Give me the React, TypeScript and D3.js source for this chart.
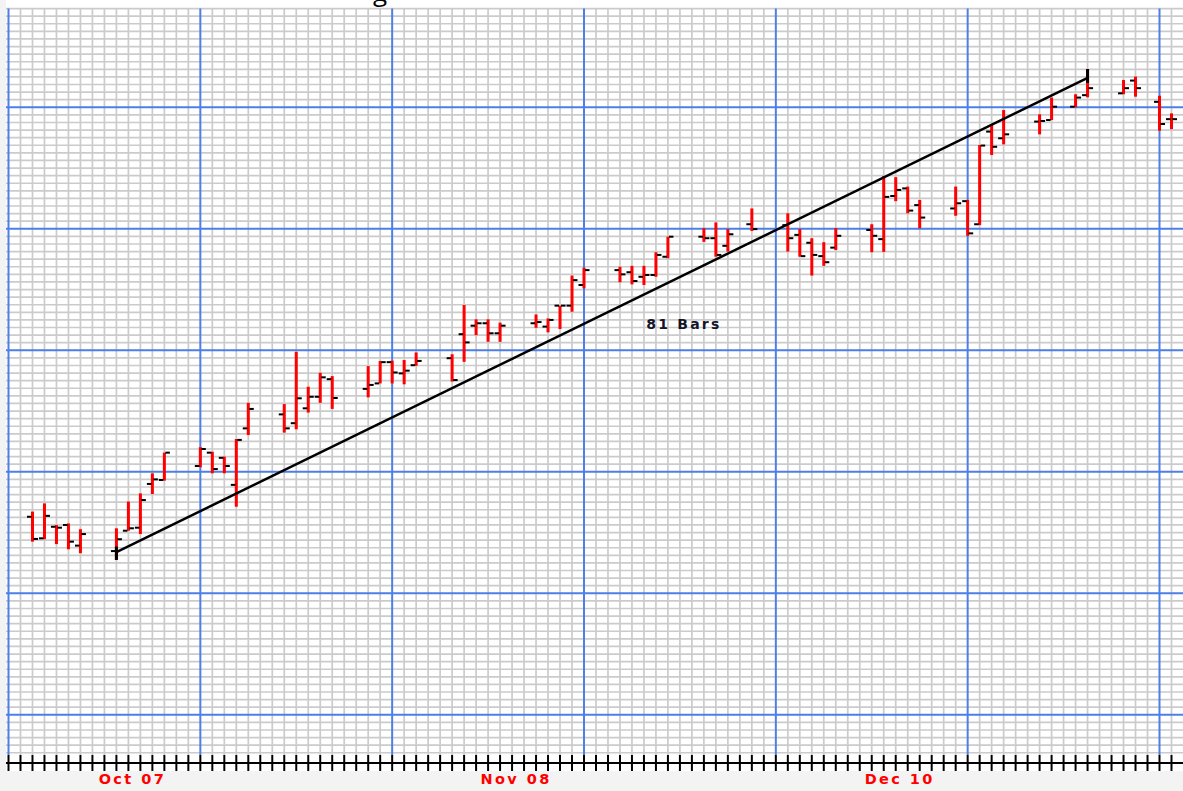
import * as d3 from "d3";

// day index (calendar days from the left edge of the grid)
const days = [
  2, 3, 4, 5, 6, 9, 10, 11, 12, 13, 16, 17, 18, 19, 20, 23, 24, 25, 26, 27,
  30, 31, 32, 33, 34, 37, 38, 39, 40, 41, 44, 45, 46, 47, 48, 51, 52, 53, 54,
  55, 58, 59, 60, 62, 65, 66, 67, 68, 69, 72, 73, 74, 75, 76, 79, 80, 81, 82,
  83, 86, 87, 89, 90, 93, 94, 96, 97,
];
const highs = [
  26.69, 26.96, 26.25, 26.3, 26.11, 26.14, 27.02, 27.29, 27.95, 28.63, 28.81,
  28.66, 28.5, 29.08, 30.27, 30.23, 31.95, 30.8, 31.26, 31.15, 31.48, 31.65,
  31.66, 31.68, 31.93, 31.87, 33.49, 33.02, 33.02, 32.91, 33.18, 33.05, 33.47,
  34.46, 34.72, 34.75, 34.78, 34.78, 35.23, 35.74, 36.02, 36.21, 35.99, 36.67,
  36.51, 35.99, 35.69, 35.56, 36.02, 36.15, 37.74, 37.7, 37.39, 36.95, 37.39,
  36.95, 38.76, 39.42, 39.91, 39.77, 40.32, 40.43, 41.26, 40.9, 41.01, 40.38,
  39.8,
];
const lows = [
  25.7, 25.78, 25.62, 25.45, 25.32, 25.1, 26.06, 25.95, 27.27, 27.71, 28.15,
  27.95, 27.95, 26.85, 29.21, 29.29, 29.4, 29.95, 30.27, 30.07, 30.45, 30.91,
  30.91, 30.88, 31.49, 30.97, 31.62, 32.5, 32.28, 32.28, 32.74, 32.59, 32.7,
  33.27, 34.04, 34.24, 34.17, 34.15, 34.42, 35.03, 35.57, 35.08, 35.25, 35.93,
  35.25, 35.08, 34.46, 34.78, 35.3, 35.23, 35.24, 36.91, 36.51, 36.02, 36.43,
  35.77, 36.12, 38.43, 38.78, 39.11, 39.58, 40.0, 40.33, 40.43, 40.35, 39.23,
  39.28,
];
const opens = [
  26.52, 25.81, 26.19, 26.25, 25.57, 25.39, 26.06, 26.16, 27.6, 27.73, 28.19,
  28.63, 28.46, 27.57, 29.43, 29.89, 29.6, 30.09, 30.47, 31.05, 30.73, 30.91,
  31.61, 31.24, 31.51, 31.74, 32.53, 32.81, 32.89, 32.56, 32.89, 32.78, 33.47,
  33.47, 34.15, 34.64, 34.57, 34.42, 34.48, 35.08, 35.74, 35.69, 35.44, 36.15,
  36.12, 35.8, 35.54, 35.1, 35.38, 35.96, 35.66, 37.08, 37.33, 36.78, 36.67,
  36.91, 36.15, 39.2, 38.98, 39.53, 39.58, 40.02, 40.4, 40.46, 40.88, 40.18,
  39.61,
];
const closes = [
  25.79, 26.55, 26.16, 25.7, 25.95, 25.78, 26.14, 27.07, 27.75, 28.63, 28.75,
  28.09, 28.19, 29.05, 30.07, 29.43, 30.42, 30.47, 31.11, 30.43, 30.86, 31.61,
  31.27, 31.33, 31.65, 31.02, 32.26, 32.89, 32.56, 32.81, 32.93, 33.0, 33.47,
  34.31, 34.64, 34.5, 34.28, 34.48, 35.14, 35.74, 35.69, 35.14, 35.82, 35.99,
  35.69, 35.1, 35.14, 34.9, 35.77, 35.77, 37.05, 37.28, 36.6, 36.37, 36.84,
  35.85, 38.74, 38.7, 39.11, 39.55, 40.02, 40.32, 40.63, 40.63, 40.63, 39.45,
  39.61,
];

const labelDays = [10, 42, 74];
const labelTexts = ["Oct 07", "Nov 08", "Dec 10"];

// trend line: from low of day 9 to high of day 90
const trendStart = { day: 9, price: 25.34, tip: 25.1 };
const trendEnd = { day: 90, price: 40.95, tip: 41.26 };

const W = 1183;
const H = 791;
const GRID_LEFT = 6;
const GRID_TOP_PRICE = 43.25;
const GRID_BOTTOM_PRICE = 18.75;
const AXIS_Y = 763;
const TICK_TOP = 755;
const TICK_BOTTOM = 771;

const GRAY = "#cbcbcb";
const BLUE = "#4d7fe6";
const FONT = "DejaVu Sans, Verdana, sans-serif";

const App = () => {
  const x = d3.scaleLinear().domain([0, 96]).range([8.5, 1159.5]);
  const y = d3.scaleLinear().domain([20, 40]).range([714.8, 107.3]);

  const gridDays = d3.range(0, 98);
  const gridPrices = d3.range(0, 99).map((i) => GRID_BOTTOM_PRICE + i * 0.25);
  const yTop = y(GRID_TOP_PRICE);

  const trendLen = trendEnd.day - trendStart.day;

  return (
    <svg
      width={W}
      height={H}
      style={{ position: "absolute", left: 0, top: 0, display: "block" }}
    >
      <rect x={0} y={0} width={W} height={H} fill="#f3f3f3" />
      <rect x={GRID_LEFT} y={0} width={W - GRID_LEFT} height={TICK_BOTTOM} fill="#ffffff" />

      {/* title, cut off at the top */}
      <text x={373} y={1} fontSize={26} fontFamily="Open Sans" fill="#000">
        g
      </text>

      {/* minor grid */}
      <g stroke={GRAY} strokeWidth={1.7}>
        {gridDays
          .filter((d) => d % 16 !== 0)
          .map((d) => (
            <line key={"v" + d} x1={x(d)} x2={x(d)} y1={yTop} y2={TICK_TOP} />
          ))}
        {gridPrices
          .filter((p, i) => (i - 5) % 16 !== 0)
          .map((p) => (
            <line key={"h" + p} x1={GRID_LEFT} x2={W} y1={y(p)} y2={y(p)} />
          ))}
      </g>
      {/* major grid */}
      <g stroke={BLUE} strokeWidth={2}>
        {gridDays
          .filter((d) => d % 16 === 0)
          .map((d) => (
            <line key={"V" + d} x1={x(d)} x2={x(d)} y1={yTop} y2={TICK_TOP} />
          ))}
        {gridPrices
          .filter((p, i) => (i - 5) % 16 === 0)
          .map((p) => (
            <line key={"H" + p} x1={GRID_LEFT} x2={W} y1={y(p)} y2={y(p)} />
          ))}
      </g>

      {/* ohlc bars */}
      {days.map((d, i) => {
        const cx = x(d);
        return (
          <g key={d}>
            <line
              x1={cx}
              x2={cx}
              y1={y(highs[i])}
              y2={y(lows[i])}
              stroke="#ff0000"
              strokeWidth={3}
            />
            <line
              x1={cx - 5.5}
              x2={cx - 1}
              y1={y(opens[i])}
              y2={y(opens[i])}
              stroke="#000"
              strokeWidth={2}
            />
            <line
              x1={cx + 1}
              x2={cx + 5.5}
              y1={y(closes[i])}
              y2={y(closes[i])}
              stroke="#000"
              strokeWidth={2}
            />
          </g>
        );
      })}

      {/* trend line + anchors */}
      <line
        x1={x(trendStart.day) - 1}
        y1={y(trendStart.price)}
        x2={x(trendEnd.day) - 1}
        y2={y(trendEnd.price)}
        stroke="#000"
        strokeWidth={2.5}
      />
      <line
        x1={x(trendStart.day)}
        x2={x(trendStart.day)}
        y1={y(trendStart.tip)}
        y2={y(trendStart.price + 0.2)}
        stroke="#000"
        strokeWidth={3}
      />
      <line
        x1={x(trendEnd.day)}
        x2={x(trendEnd.day)}
        y1={y(trendEnd.tip)}
        y2={y(trendEnd.price - 0.15)}
        stroke="#000"
        strokeWidth={3}
      />
      <text
        x={x(53.2)}
        y={y(32.7)}
        fontFamily={FONT}
        fontWeight="bold"
        fontSize={14}
        letterSpacing={2.2}
        fill="#15152a"
      >
        {trendLen} Bars
      </text>

      {/* x axis */}
      <line x1={GRID_LEFT} x2={W} y1={AXIS_Y} y2={AXIS_Y} stroke="#000" strokeWidth={2} />
      <g stroke="#000" strokeWidth={2}>
        {gridDays.map((d) => (
          <line key={"t" + d} x1={x(d)} x2={x(d)} y1={TICK_TOP} y2={TICK_BOTTOM} />
        ))}
      </g>
      {labelDays.map((d, i) => (
        <text
          key={d}
          x={x(d) + 4}
          y={784}
          textAnchor="middle"
          fontFamily={FONT}
          fontWeight="bold"
          fontSize={14.5}
          letterSpacing={2.4}
          fill="#ff0000"
        >
          {labelTexts[i]}
        </text>
      ))}
    </svg>
  );
};

export default App;
